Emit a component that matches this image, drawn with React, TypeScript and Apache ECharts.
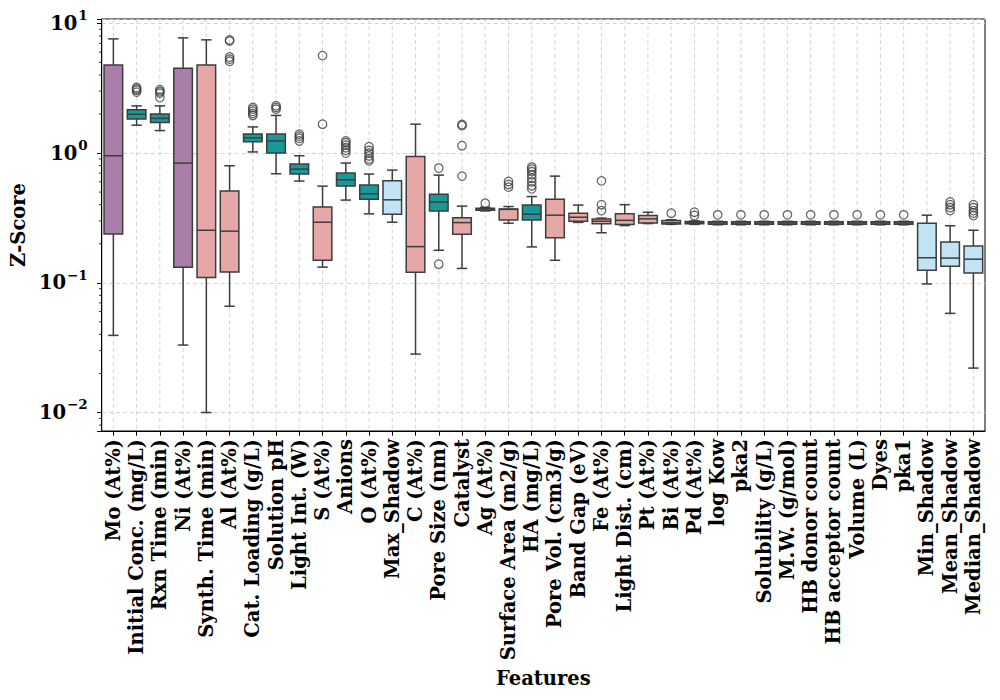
import React, { useEffect, useRef } from "react";
import * as echarts from "echarts";

// Feature names along the x axis
const features = [
  "Mo (At%)", "Initial Conc. (mg/L)", "Rxn Time (min)", "Ni (At%)", "Synth. Time (min)",
  "Al (At%)", "Cat. Loading (g/L)", "Solution pH", "Light Int. (W)", "S (At%)",
  "Anions", "O (At%)", "Max_Shadow", "C (At%)", "Pore Size (nm)",
  "Catalyst", "Ag (At%)", "Surface Area (m2/g)", "HA (mg/L)", "Pore Vol. (cm3/g)",
  "Band Gap (eV)", "Fe (At%)", "Light Dist. (cm)", "Pt (At%)", "Bi (At%)",
  "Pd (At%)", "log Kow", "pka2", "Solubility (g/L)", "M.W. (g/mol)",
  "HB donor count", "HB acceptor count", "Volume (L)", "Dyes", "pka1",
  "Min_Shadow", "Mean_Shadow", "Median_Shadow",
];

// Colour group of each feature
const featureGroup = [
  "purple", "teal", "teal", "purple", "pink",
  "pink", "teal", "teal", "teal", "pink",
  "teal", "teal", "blue", "pink", "teal",
  "pink", "pink", "pink", "teal", "pink",
  "pink", "pink", "pink", "pink", "pink",
  "pink", "pink", "pink", "pink", "pink",
  "pink", "pink", "pink", "pink", "pink",
  "blue", "blue", "blue",
];

const palette: Record<string, string> = {
  purple: "#a97ea8",
  teal: "#17999a",
  pink: "#e5a8a6",
  blue: "#c1e4f4",
};

// Box statistics (Z-Score)
const whiskerLow = [
  0.0393, 1.64, 1.49, 0.0331, 0.01,
  0.0659, 1.02, 0.692, 0.608, 0.132,
  0.434, 0.34, 0.293, 0.0282, 0.178,
  0.129, 0.358, 0.288, 0.189, 0.149,
  0.292, 0.243, 0.276, 0.286, 0.282,
  0.282, 0.28, 0.28, 0.28, 0.28,
  0.28, 0.28, 0.28, 0.28, 0.28,
  0.098, 0.0581, 0.022,
];
const q1 = [
  0.238, 1.83, 1.72, 0.132, 0.11,
  0.121, 1.22, 1.0, 0.689, 0.149,
  0.556, 0.441, 0.338, 0.1205, 0.358,
  0.237, 0.363, 0.305, 0.305, 0.222,
  0.298, 0.285, 0.281, 0.289, 0.284,
  0.285, 0.283, 0.283, 0.283, 0.283,
  0.283, 0.283, 0.283, 0.283, 0.283,
  0.125, 0.134, 0.119,
];
const median = [
  0.953, 1.99, 1.85, 0.837, 0.254,
  0.25, 1.31, 1.24, 0.752, 0.293,
  0.622, 0.485, 0.436, 0.19, 0.419,
  0.291, 0.37, 0.368, 0.338, 0.332,
  0.32, 0.298, 0.303, 0.311, 0.29,
  0.29, 0.289, 0.289, 0.289, 0.289,
  0.289, 0.289, 0.289, 0.289, 0.289,
  0.156, 0.155, 0.152,
];
const q3 = [
  4.78, 2.16, 2.0, 4.5, 4.78,
  0.511, 1.4, 1.4, 0.822, 0.383,
  0.701, 0.566, 0.611, 0.941, 0.482,
  0.317, 0.376, 0.371, 0.397, 0.441,
  0.344, 0.31, 0.34, 0.33, 0.302,
  0.297, 0.295, 0.295, 0.295, 0.295,
  0.295, 0.295, 0.295, 0.295, 0.295,
  0.288, 0.206, 0.192,
];
const whiskerHigh = [
  7.59, 2.31, 2.31, 7.73, 7.46,
  0.798, 1.59, 1.95, 0.953, 0.556,
  0.837, 0.689, 0.739, 1.67, 0.676,
  0.39, 0.382, 0.387, 0.462, 0.664,
  0.397, 0.315, 0.4, 0.35, 0.306,
  0.3, 0.298, 0.298, 0.298, 0.298,
  0.298, 0.298, 0.298, 0.298, 0.298,
  0.332, 0.275, 0.254,
];

// Points beyond the whiskers
const outliers: number[][] = [
  [], [2.95, 3.05, 3.12, 3.2], [2.68, 2.9, 2.98, 3.08], [], [],
  [5.1, 5.3, 5.5, 7.3, 7.45], [1.95, 2.02, 2.1, 2.18, 2.25], [2.18, 2.25, 2.32], [1.24, 1.3, 1.35, 1.4], [1.67, 5.64],
  [1.0, 1.05, 1.1, 1.15, 1.2, 1.24], [0.87, 0.9, 0.95, 1.0, 1.05, 1.12], [], [], [0.139, 0.766],
  [0.664, 1.14, 1.63, 1.66], [0.41], [0.546, 0.573, 0.604], [0.53, 0.56, 0.6, 0.64, 0.68, 0.72, 0.75, 0.78], [],
  [], [0.36, 0.4, 0.61], [], [], [0.344],
  [0.33, 0.35], [0.334], [0.334], [0.334], [0.334],
  [0.334], [0.334], [0.334], [0.334], [0.334],
  [], [0.36, 0.38, 0.4, 0.42], [0.33, 0.345, 0.36, 0.38, 0.4],
];

// Y axis (log) decades and their labels (base and exponent), plus minor tick positions
const yMin = 0.0072;
const yMax = 10.8;
const yTickValues = [0.01, 0.1, 1, 10];
const yTickBase = "10";
const yTickExponents = ["−2", "−1", "0", "1"];
const yMinorTicks = [
  0.008, 0.009,
  0.02, 0.03, 0.04, 0.05, 0.06, 0.07, 0.08, 0.09,
  0.2, 0.3, 0.4, 0.5, 0.6, 0.7, 0.8, 0.9,
  2, 3, 4, 5, 6, 7, 8, 9,
];

const EDGE = "#3d3d3d";
const GRID = "#cfcfcf";
const FONT = "DejaVu Serif";
const FS = 19.5;

export default function App() {
  const ref = useRef<HTMLDivElement>(null);

  useEffect(() => {
    if (!ref.current) return;
    const chart = echarts.init(ref.current, null, { renderer: "svg" });
    const n = features.length;

    const boxData = features.map((_, i) => [
      i, whiskerLow[i], q1[i], median[i], q3[i], whiskerHigh[i],
    ]);
    const outlierData: number[][] = [];
    outliers.forEach((arr, i) => arr.forEach((v) => outlierData.push([i, v])));

    const option: any = {
      animation: false,
      backgroundColor: "#ffffff",
      textStyle: { fontFamily: FONT },
      grid: {
        left: 97,
        right: 15,
        top: 19,
        bottom: 269,
        show: true,
        borderColor: "#000",
        borderWidth: 1,
        backgroundColor: "transparent",
      },
      xAxis: {
        type: "category",
        data: features,
        name: "Features",
        nameLocation: "middle",
        nameGap: 232,
        nameTextStyle: { fontFamily: FONT, fontWeight: "bold", fontSize: FS, color: "#000" },
        axisLine: { show: true, lineStyle: { color: "#000", width: 1 } },
        axisTick: { show: true, alignWithLabel: true, length: 4.7, lineStyle: { color: "#000", width: 1 } },
        axisLabel: {
          interval: 0,
          rotate: 90,
          margin: 8,
          fontFamily: FONT,
          fontWeight: "bold",
          fontSize: FS,
          color: "#000",
        },
        splitLine: { show: false },
      },
      yAxis: {
        type: "log",
        logBase: 10,
        min: yMin,
        max: yMax,
        name: "Z-Score",
        nameLocation: "middle",
        nameGap: 62,
        nameTextStyle: { fontFamily: FONT, fontWeight: "bold", fontSize: FS, color: "#000" },
        axisLine: { show: true, lineStyle: { color: "#000", width: 1 } },
        axisTick: { show: true, length: 4.7, lineStyle: { color: "#000", width: 1 } },
        axisLabel: {
          margin: 14,
          fontFamily: FONT,
          fontWeight: "bold",
          color: "#000",
          formatter: (v: number) => {
            const k = yTickValues.findIndex((t) => Math.abs(Math.log10(v) - Math.log10(t)) < 1e-6);
            return k >= 0 ? `{b|${yTickBase}}{s|${yTickExponents[k]}}` : "";
          },
          rich: {
            b: {
              fontFamily: FONT,
              fontWeight: "bold",
              fontSize: FS,
              color: "#000",
              lineHeight: 30,
            },
            s: {
              fontFamily: FONT,
              fontWeight: "bold",
              fontSize: 13.5,
              color: "#000",
              lineHeight: 14,
              verticalAlign: "top",
              padding: [0, 0, 0, 1],
            },
          },
        },
        splitLine: { show: true, lineStyle: { color: GRID, width: 0.9, type: [4, 3] } },
      },
      series: [
        {
          // vertical grid lines at each feature
          type: "custom",
          z: 1,
          silent: true,
          data: features.map((_, i) => [i, 1]),
          encode: { x: 0, y: 1 },
          renderItem: (params: any, api: any) => {
            const cs = params.coordSys;
            const x = api.coord([api.value(0), 1])[0];
            return {
              type: "line",
              shape: { x1: x, y1: cs.y, x2: x, y2: cs.y + cs.height },
              style: { stroke: GRID, lineWidth: 0.9, lineDash: [4, 3] },
            };
          },
        },
        {
          // minor ticks of the log axis
          type: "custom",
          z: 5,
          silent: true,
          clip: false,
          data: yMinorTicks.map((v) => [0, v]),
          encode: { x: 0, y: 1 },
          renderItem: (params: any, api: any) => {
            const cs = params.coordSys;
            const y = api.coord([0, api.value(1)])[1];
            return {
              type: "line",
              shape: { x1: cs.x - 2.8, y1: y, x2: cs.x, y2: y },
              style: { stroke: "#000", lineWidth: 0.8 },
            };
          },
        },
        {
          // box plots
          type: "custom",
          z: 3,
          silent: true,
          data: boxData,
          encode: { x: 0, y: [1, 2, 3, 4, 5] },
          renderItem: (params: any, api: any) => {
            const cs = params.coordSys;
            const i = api.value(0);
            const band = cs.width / n;
            const bw = band * 0.8;
            const cap = bw * 0.56;
            const cx = api.coord([i, api.value(3)])[0];
            const yLo = api.coord([i, api.value(1)])[1];
            const yQ1 = api.coord([i, api.value(2)])[1];
            const yMed = api.coord([i, api.value(3)])[1];
            const yQ3 = api.coord([i, api.value(4)])[1];
            const yHi = api.coord([i, api.value(5)])[1];
            const fill = palette[featureGroup[params.dataIndex]];
            const ls = { stroke: EDGE, lineWidth: 1.5 };
            return {
              type: "group",
              children: [
                { type: "line", shape: { x1: cx, y1: yQ3, x2: cx, y2: yHi }, style: ls },
                { type: "line", shape: { x1: cx, y1: yQ1, x2: cx, y2: yLo }, style: ls },
                { type: "line", shape: { x1: cx - cap / 2, y1: yHi, x2: cx + cap / 2, y2: yHi }, style: ls },
                { type: "line", shape: { x1: cx - cap / 2, y1: yLo, x2: cx + cap / 2, y2: yLo }, style: ls },
                {
                  type: "rect",
                  shape: { x: cx - bw / 2, y: yQ3, width: bw, height: Math.max(yQ1 - yQ3, 0.5) },
                  style: { fill, stroke: EDGE, lineWidth: 1.5 },
                },
                { type: "line", shape: { x1: cx - bw / 2, y1: yMed, x2: cx + bw / 2, y2: yMed }, style: ls },
              ],
            };
          },
        },
        {
          type: "scatter",
          z: 4,
          silent: true,
          data: outlierData,
          symbol: "circle",
          symbolSize: 8.5,
          itemStyle: { color: "rgba(255,255,255,0)", borderColor: EDGE, borderWidth: 1.25 },
        },
      ],
    };

    chart.setOption(option);
    return () => chart.dispose();
  }, []);

  return (
    <div
      ref={ref}
      style={{ position: "fixed", left: 0, top: 0, width: 1000, height: 700, background: "#fff" }}
    />
  );
}
